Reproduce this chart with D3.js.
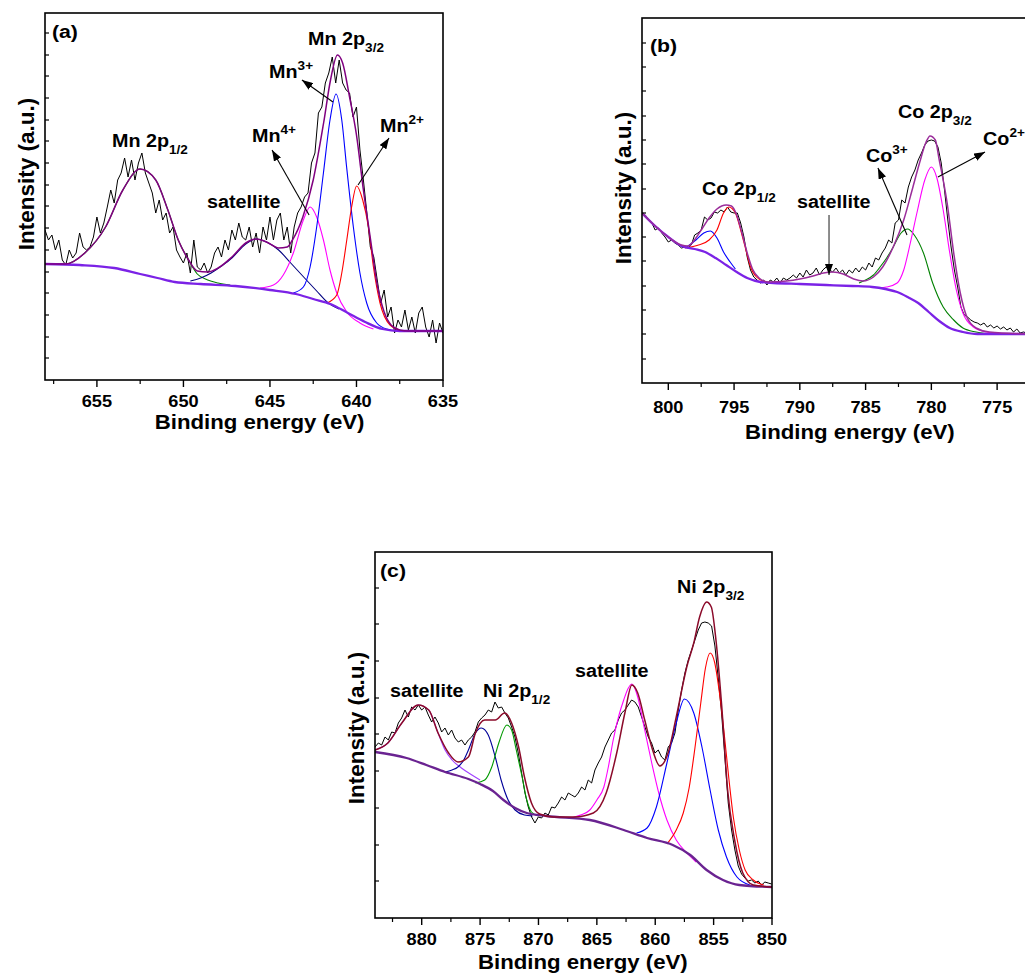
<!DOCTYPE html>
<html>
<head>
<meta charset="UTF-8">
<title>XPS 2p spectra</title>
<style>
  body { margin: 0; background: #fff; }
  svg text { font-family: Arial, 'Liberation Sans', Helvetica, sans-serif; font-weight: bold; fill: #000; }
</style>
</head>
<body>
<svg id="chart" width="1025" height="977"></svg>
<script src="https://d3js.org/d3.v7.min.js"></script>
<script>
// ---------- panel (a) Mn 2p ----------
var aExpStart = 658, aExpStep = 0.2;
var aExp = [150,140,145,130,140,120,115,130,122,127,
  147,133,130,133,143,163,147,157,173,190,
  177,200,207,222,203,220,200,217,227,207,
  197,187,167,180,160,167,147,153,130,123,
  117,127,107,140,113,110,117,107,113,127,
  133,123,140,130,150,140,157,143,
  140,153,133,147,127,153,140,163,140,160,
  167,140,153,127,153,167,173,183,187,217,
  227,267,273,297,307,323,297,320,297,290,
  287,263,273,230,200,167,133,123,100,77,
  90,63,73,47,60,53,70,50,63,47,
  67,73,53,43,60,37,57,47];
var aBackground = [[658,116],[656,115],[654,112],[652.5,106],[651.5,102],[650.5,98],[649,96],[647,94],[645,90],[643.5,86],[642.5,81],[641.5,76],[640.5,67],[639.5,58],[638.5,51],[637.5,49],[635,49]];
var aEnvelope = [[658,116],[656.8,116],[655.7,127],[654.5,153],[653.5,190],[652.5,211],[651.6,200],[650.9,170],[650.3,140],[649.7,120],[649.2,109],[648.6,108],[648,112],[647.2,123],[646.4,137],[645.8,141],[645.2,138],[644.5,132],[644,133],[643.7,140],[643.1,163],[642.5,200],[641.9,257],[641.5,300],[641.1,325],[640.8,317],[640.4,283],[640,245],[639.6,190],[639.2,142],[638.8,95],[638.4,68],[638,55],[637.5,50],[637,49],[635,49]];
var aMn2p12 = [[658,116],[656.8,116],[655.7,127],[654.5,153],[653.5,190],[652.5,211],[651.6,200],[650.9,170],[650.3,140],[649.7,120],[649.2,106],[648.6,100],[648,97],[647.3,95]];
var aSatellite = [[649.6,99],[649,102],[648.4,107],[647.8,114],[647.2,122],[646.4,136],[645.8,141],[645.2,138],[644.5,130],[643.8,117],[643,102],[642.3,89],[641.7,78],[641,71]];
var aMn4 = [[645.57,92],[644.8,95],[644.23,105],[643.65,127],[643.07,160],[642.68,173],[642.3,163],[641.91,140],[641.53,110],[641.14,87],[640.56,68],[639.8,57],[639.02,51]];
var aMn3 = [[643.65,87],[643.07,93],[642.68,113],[642.3,153],[641.91,207],[641.53,260],[641.18,286],[640.85,260],[640.57,213],[640.18,153],[639.8,107],[639.41,77],[638.83,57],[638.25,51],[637.5,49]];
var aMn2 = [[641.7,77],[641.14,85],[640.85,107],[640.56,140],[640.28,173],[639.99,194],[639.64,180],[639.31,153],[639.02,113],[638.64,77],[638.06,55],[637.5,50]];
var aXMajor = [655, 650, 645, 640, 635];
var aXMinor = [657.5, 652.5, 647.5, 642.5, 637.5];
var aYTicks = [22,43,65,87,108,130,152,174,195,217,239,260,282,304,325,347];

// ---------- panel (b) Co 2p ----------
var bExpStart = 802, bExpStep = 0.25;
var bExp = [170,168,163,160,153,155,150,146,141,143,
  140,138,135,136,135,138,148,150,153,166,
  163,165,171,170,173,171,176,171,170,170,
  160,146,126,113,106,103,100,103,98,103,
  101,105,100,105,103,105,108,105,110,106,
  113,108,110,115,108,113,116,113,
  111,115,110,113,108,113,110,115,111,116,
  113,120,116,125,123,130,135,143,140,160,
  163,183,180,196,206,213,223,230,238,242,
  243,242,236,220,193,163,136,113,96,76,
  68,66,63,61,60,58,60,56,58,55,
  57,54,56,53,55,51,54,50,51,50];
var bBackground = [[802,170],[801,157],[800,146],[799,137],[798,134],[797.2,131],[796.4,125],[795.6,118],[794.8,111],[794,105],[793,101],[792,100],[790,99],[788,98],[786,97],[784.5,96],[783.5,94],[782.6,91],[781.8,86],[781,80],[780.2,71],[779.4,62],[778.6,55],[777.6,51],[776.5,49],[772.5,49]];
var bEnvelope = [[802,170],[801,157],[800,146],[799,138],[798.5,137],[797.9,145],[797.4,155],[796.9,165],[796.3,174],[795.6,178],[795.2,177],[794.8,168],[794.4,150],[794,130],[793.6,114],[793.1,105],[792.4,101],[791,102],[790,104],[789,107],[788.2,110],[787.5,111],[786.7,109],[785.9,104],[785.2,102],[784.4,106],[783.7,116],[782.9,136],[782.1,163],[781.4,196],[780.9,220],[780.4,241],[780.1,247],[779.7,243],[779.4,223],[778.8,180],[778.3,130],[777.8,90],[777.3,66],[776.6,55],[775.6,51],[772.5,49]];
var bCo2p12a = [[798.7,135],[797.9,143],[797.3,150],[796.8,152],[796.3,145],[795.8,131],[795.3,121],[794.9,114]];
var bCo2p12b = [[798.7,135],[797.7,138],[796.9,143],[796.3,153],[795.8,170],[795.4,176],[794.9,170],[794.5,153],[794.1,133],[793.8,118],[793.3,106],[792.6,101]];
var bCo3 = [[785.5,100],[785,103],[784.4,108],[783.9,116],[783.4,125],[782.9,136],[782.3,150],[781.8,154],[781.3,148],[780.6,130],[779.9,100],[779.1,76],[778.3,63],[777.6,55],[776.6,51],[775.5,49]];
var bCo2 = [[784,95],[783.4,96],[782.6,100],[782.1,113],[781.6,140],[781.1,170],[780.5,203],[780,216],[779.6,206],[779.1,173],[778.6,130],[778.1,93],[777.6,70],[776.8,56],[775.8,51],[774.5,49]];
var bXMajor = [800, 795, 790, 785, 780, 775];
var bXMinor = [797.5, 792.5, 787.5, 782.5, 777.5, 772.5];
var bYTicks = [24,49,73,97,122,146,170,194,219,243,267,292,316,340];

// ---------- panel (c) Ni 2p ----------
var cExpStart = 884, cExpStep = 0.2854;
var cExp = [171,175,173,181,178,186,185,195,200,208,
  201,211,208,213,208,211,203,196,201,195,
  186,190,183,188,180,176,178,173,178,181,
  186,196,200,203,208,206,216,210,211,205,
  200,191,181,165,145,125,111,101,95,101,
  100,105,103,111,110,115,121,118,125,123,
  121,
  125,131,128,138,135,148,155,161,171,178,
  185,188,198,205,208,213,218,216,211,201,
  191,181,175,165,168,161,158,171,175,185,
  208,228,245,258,268,278,288,295,296,295,
  292,272,240,205,160,115,88,68,52,44,
  40,37,38,35,37,33,36,35,34];
var cBackground = [[884,166],[881.3,160],[879.6,153],[878,146],[876,139],[875,134],[873.9,127],[873,118],[872,110],[871,105],[869.3,102],[865.6,98],[862.7,88],[860.7,80],[858.5,73],[857,63],[855.6,48],[854.2,38],[852.8,33],[850,31]];
var cEnvelope = [[884,168],[882.9,175],[881.7,195],[880.3,213],[879.4,208],[878.6,185],[877.7,165],[876.9,156],[876,161],[875.4,185],[874.6,198],[873.7,198],[872.9,205],[872.3,195],[871.7,171],[871.2,141],[870.6,115],[869.9,104],[868.7,101],[867,101],[865.3,105],[864.2,125],[863.3,165],[862.6,205],[862,233],[861.5,225],[860.9,198],[860.3,171],[859.6,152],[858.9,165],[858.2,201],[857.3,251],[856.7,275],[856.2,301],[855.6,316],[855.2,311],[854.8,278],[854.3,211],[853.8,128],[853.2,78],[852.5,45],[851.6,33],[850,31]];
var cSatLeft = [[884,168],[882.9,175],[881.7,195],[880.3,213],[879.4,208],[878.6,185],[878,168],[877.4,158],[876.6,150],[875.7,143],[875,138]];
var cNi2p12a = [[878,146],[877.4,148],[876.9,151],[876.4,158],[876,168],[875.4,185],[874.9,190],[874.3,183],[873.7,161],[873.2,138],[872.6,118],[872,108],[871.2,103],[870.5,102]];
var cNi2p12b = [[875.4,135],[874.6,138],[874,151],[873.4,175],[872.7,193],[872.3,188],[871.9,168],[871.4,141],[871,118],[870.6,106],[870,102]];
var cSatRight = [[867.3,100],[866.4,103],[865.6,108],[865,118],[864.4,131],[864,152],[863.6,178],[863.1,203],[862.7,218],[862.3,230],[862,234],[861.5,221],[860.9,188],[860.3,155],[859.7,125],[859,98],[858.2,78],[857.3,65],[856.5,56]];
var cNi2p32a = [[861.6,85],[860.7,90],[859.9,111],[859,155],[858.2,195],[857.5,219],[856.7,205],[856,171],[855.3,128],[854.6,88],[853.9,61],[853,41],[851.9,33]];
var cNi2p32b = [[859,74],[858.2,88],[857.6,105],[857.1,130],[856.6,170],[856.1,215],[855.7,250],[855.3,265],[854.9,255],[854.5,225],[854.1,185],[853.7,140],[853.3,100],[852.8,68],[852.3,48],[851.6,38],[850.7,33]];
var cXMajor = [880, 875, 870, 865, 860, 855, 850];
var cXMinor = [882.5, 877.5, 872.5, 867.5, 862.5, 857.5, 852.5];
var cYTicks = [37,73,110,147,184,220,257,294,330];

var svg = d3.select("#chart");

svg.append("defs").append("marker")
    .attr("id", "arrow")
    .attr("markerUnits", "userSpaceOnUse")
    .attr("markerWidth", 11).attr("markerHeight", 8)
    .attr("refX", 11).attr("refY", 4)
    .attr("orient", "auto")
  .append("path")
    .attr("d", "M0,0 L11,4 L0,8 z")
    .attr("fill", "#000");

// text helper: the source figure is a little stretched horizontally
function addText(parent, px, py, parts, size, anchor, sx, rotate) {
  var tf = "translate(" + px + "," + py + ")" + (rotate ? " rotate(" + rotate + ")" : "") + " scale(" + sx + ",1)";
  var t = parent.append("text")
      .attr("transform", tf)
      .attr("text-anchor", anchor || "start")
      .style("font-size", size + "px");
  parts.forEach(function(p) {
    var s = t.append("tspan").text(p.t);
    if (p.sub) s.attr("dy", 7).style("font-size", "12px");
    if (p.sup) s.attr("dy", -8).style("font-size", "12px");
  });
  return t;
}

function drawPanel(p) {
  var x = d3.scaleLinear().domain(p.xDomain).range([p.left, p.right]);
  var y = d3.scaleLinear().domain([0, p.yMax]).range([p.bottom, p.top]);
  var g = svg.append("g").attr("class", "panel-" + p.id);

  svg.select("defs").append("clipPath").attr("id", "clip-" + p.id)
    .append("rect")
      .attr("x", p.left).attr("y", p.top)
      .attr("width", p.right - p.left).attr("height", p.bottom - p.top);

  var plot = g.append("g").attr("clip-path", "url(#clip-" + p.id + ")");

  var smooth = d3.line()
      .x(function(d) { return x(d[0]); })
      .y(function(d) { return y(d[1]); })
      .curve(d3.curveMonotoneX);
  var raw = d3.line()
      .x(function(d, i) { return x(p.expStart - i * p.expStep); })
      .y(function(d) { return y(d); });

  plot.append("path").datum(p.exp)
      .attr("d", raw)
      .attr("fill", "none").attr("stroke", "#000").attr("stroke-width", 1);

  p.comps.forEach(function(c) {
    plot.append("path").datum(c.data)
        .attr("d", smooth)
        .attr("fill", "none").attr("stroke", c.color).attr("stroke-width", 1.1);
  });

  plot.append("path").datum(p.background)
      .attr("d", smooth)
      .attr("fill", "none").attr("stroke", p.bgColor).attr("stroke-width", 2.3);

  plot.append("path").datum(p.envelope)
      .attr("d", smooth)
      .attr("fill", "none").attr("stroke", p.envColor).attr("stroke-width", 1.5);

  // frame
  g.append("rect")
      .attr("x", p.left).attr("y", p.top)
      .attr("width", p.right - p.left).attr("height", p.bottom - p.top)
      .attr("fill", "none").attr("stroke", "#000").attr("stroke-width", 1.6);

  // x ticks (outward)
  g.selectAll("line.xmaj").data(p.xMajor).enter().append("line")
      .attr("x1", function(d) { return x(d); }).attr("x2", function(d) { return x(d); })
      .attr("y1", p.bottom).attr("y2", p.bottom + 7)
      .attr("stroke", "#000").attr("stroke-width", 1.4);
  g.selectAll("line.xmin").data(p.xMinor).enter().append("line")
      .attr("x1", function(d) { return x(d); }).attr("x2", function(d) { return x(d); })
      .attr("y1", p.bottom).attr("y2", p.bottom + 4)
      .attr("stroke", "#000").attr("stroke-width", 1.2);
  p.xMajor.forEach(function(v) {
    addText(g, x(v), p.bottom + p.tickDy, [{t: String(v)}], 17, "middle", 1.07);
  });

  // y ticks (inward, unlabeled)
  g.selectAll("line.ytick").data(p.yTicks).enter().append("line")
      .attr("x1", p.left).attr("x2", p.left + 4)
      .attr("y1", function(d) { return y(d); }).attr("y2", function(d) { return y(d); })
      .attr("stroke", "#000").attr("stroke-width", 1.2);

  addText(g, x(p.xTitleAt), p.bottom + p.titleDy, [{t: "Binding energy (eV)"}], 19.5, "middle", 1.14);
  addText(g, p.left - 11, y(p.yTitleAt), [{t: "Intensity (a.u.)"}], 22.5, "middle", 1, -90);

  addText(g, x(p.letter.e), y(p.letter.h), [{t: p.letter.t}], 18.5, "start", 1.15);
  p.labels.forEach(function(l) {
    addText(g, x(l.e), y(l.h), l.parts, 17.5, "start", 1.13);
  });

  p.arrows.forEach(function(a) {
    g.append("line")
        .attr("x1", x(a.from[0])).attr("y1", y(a.from[1]))
        .attr("x2", x(a.to[0])).attr("y2", y(a.to[1]))
        .attr("stroke", a.color || "#000").attr("stroke-width", a.color ? 1.8 : 1.1)
        .attr("marker-end", "url(#arrow)");
  });
}

var panels = [
  {
    id: "a", left: 45, right: 443, top: 13, bottom: 380,
    xDomain: [658, 635], yMax: 367,
    exp: aExp, expStart: aExpStart, expStep: aExpStep,
    background: aBackground, bgColor: "#7b22e6",
    envelope: aEnvelope, envColor: "#800080",
    comps: [
      {data: aMn2p12, color: "#008000"},
      {data: aSatellite, color: "#000080"},
      {data: aMn4, color: "#ff00ff"},
      {data: aMn3, color: "#0000ff"},
      {data: aMn2, color: "#ff0000"}
    ],
    xMajor: aXMajor, xMinor: aXMinor, yTicks: aYTicks,
    tickDy: 27, titleDy: 49, xTitleAt: 645.6, yTitleAt: 206,
    letter: {t: "(a)", e: 657.6, h: 342},
    labels: [
      {e: 642.8, h: 335, parts: [{t: "Mn 2p"}, {t: "3/2", sub: true}]},
      {e: 645.05, h: 302, parts: [{t: "Mn"}, {t: "3+", sup: true}]},
      {e: 646.04, h: 238, parts: [{t: "Mn"}, {t: "4+", sup: true}]},
      {e: 638.64, h: 248, parts: [{t: "Mn"}, {t: "2+", sup: true}]},
      {e: 654.13, h: 233, parts: [{t: "Mn 2p"}, {t: "1/2", sub: true}]},
      {e: 648.64, h: 172, parts: [{t: "satellite"}]}
    ],
    arrows: [
      {from: [641.36, 278], to: [643.15, 300]},
      {from: [642.74, 165], to: [644.88, 230]},
      {from: [639.91, 195], to: [638.12, 242]}
    ]
  },
  {
    id: "b", left: 642, right: 1030, top: 18, bottom: 383,
    xDomain: [802, 772.5], yMax: 365,
    exp: bExp, expStart: bExpStart, expStep: bExpStep,
    background: bBackground, bgColor: "#7b22e6",
    envelope: bEnvelope, envColor: "#9b2d9b",
    comps: [
      {data: bCo2p12a, color: "#0000ff"},
      {data: bCo2p12b, color: "#ff0000"},
      {data: bCo3, color: "#008000"},
      {data: bCo2, color: "#ff00ff"}
    ],
    xMajor: bXMajor, xMinor: bXMinor, yTicks: bYTicks,
    tickDy: 30, titleDy: 56, xTitleAt: 786.2, yTitleAt: 195,
    letter: {t: "(b)", e: 801.39, h: 331},
    labels: [
      {e: 782.54, h: 265, parts: [{t: "Co 2p"}, {t: "3/2", sub: true}]},
      {e: 776.07, h: 238, parts: [{t: "Co"}, {t: "2+", sup: true}]},
      {e: 784.97, h: 221, parts: [{t: "Co"}, {t: "3+", sup: true}]},
      {e: 797.44, h: 188, parts: [{t: "Co 2p"}, {t: "1/2", sub: true}]},
      {e: 790.22, h: 175, parts: [{t: "satellite"}]}
    ],
    arrows: [
      {from: [779.5, 206], to: [775.92, 231]},
      {from: [781.85, 148], to: [784.06, 215]},
      {from: [787.78, 168], to: [787.78, 108], color: "#808080"}
    ]
  },
  {
    id: "c", left: 375, right: 772, top: 552, bottom: 918,
    xDomain: [884, 850], yMax: 366,
    exp: cExp, expStart: cExpStart, expStep: cExpStep,
    background: cBackground, bgColor: "#6a2391",
    envelope: cEnvelope, envColor: "#8b0a2a",
    comps: [
      {data: cSatLeft, color: "#a040ff"},
      {data: cNi2p12a, color: "#000099"},
      {data: cNi2p12b, color: "#009900"},
      {data: cSatRight, color: "#ff00ff"},
      {data: cNi2p32a, color: "#0000ff"},
      {data: cNi2p32b, color: "#ff0000"}
    ],
    xMajor: cXMajor, xMinor: cXMinor, yTicks: cYTicks,
    tickDy: 27, titleDy: 51, xTitleAt: 866.2, yTitleAt: 190,
    letter: {t: "(c)", e: 883.57, h: 341},
    labels: [
      {e: 858.13, h: 325, parts: [{t: "Ni 2p"}, {t: "3/2", sub: true}]},
      {e: 866.87, h: 241, parts: [{t: "satellite"}]},
      {e: 882.72, h: 221, parts: [{t: "satellite"}]},
      {e: 874.75, h: 221, parts: [{t: "Ni 2p"}, {t: "1/2", sub: true}]}
    ],
    arrows: []
  }
];

panels.forEach(drawPanel);
</script>
</body>
</html>
